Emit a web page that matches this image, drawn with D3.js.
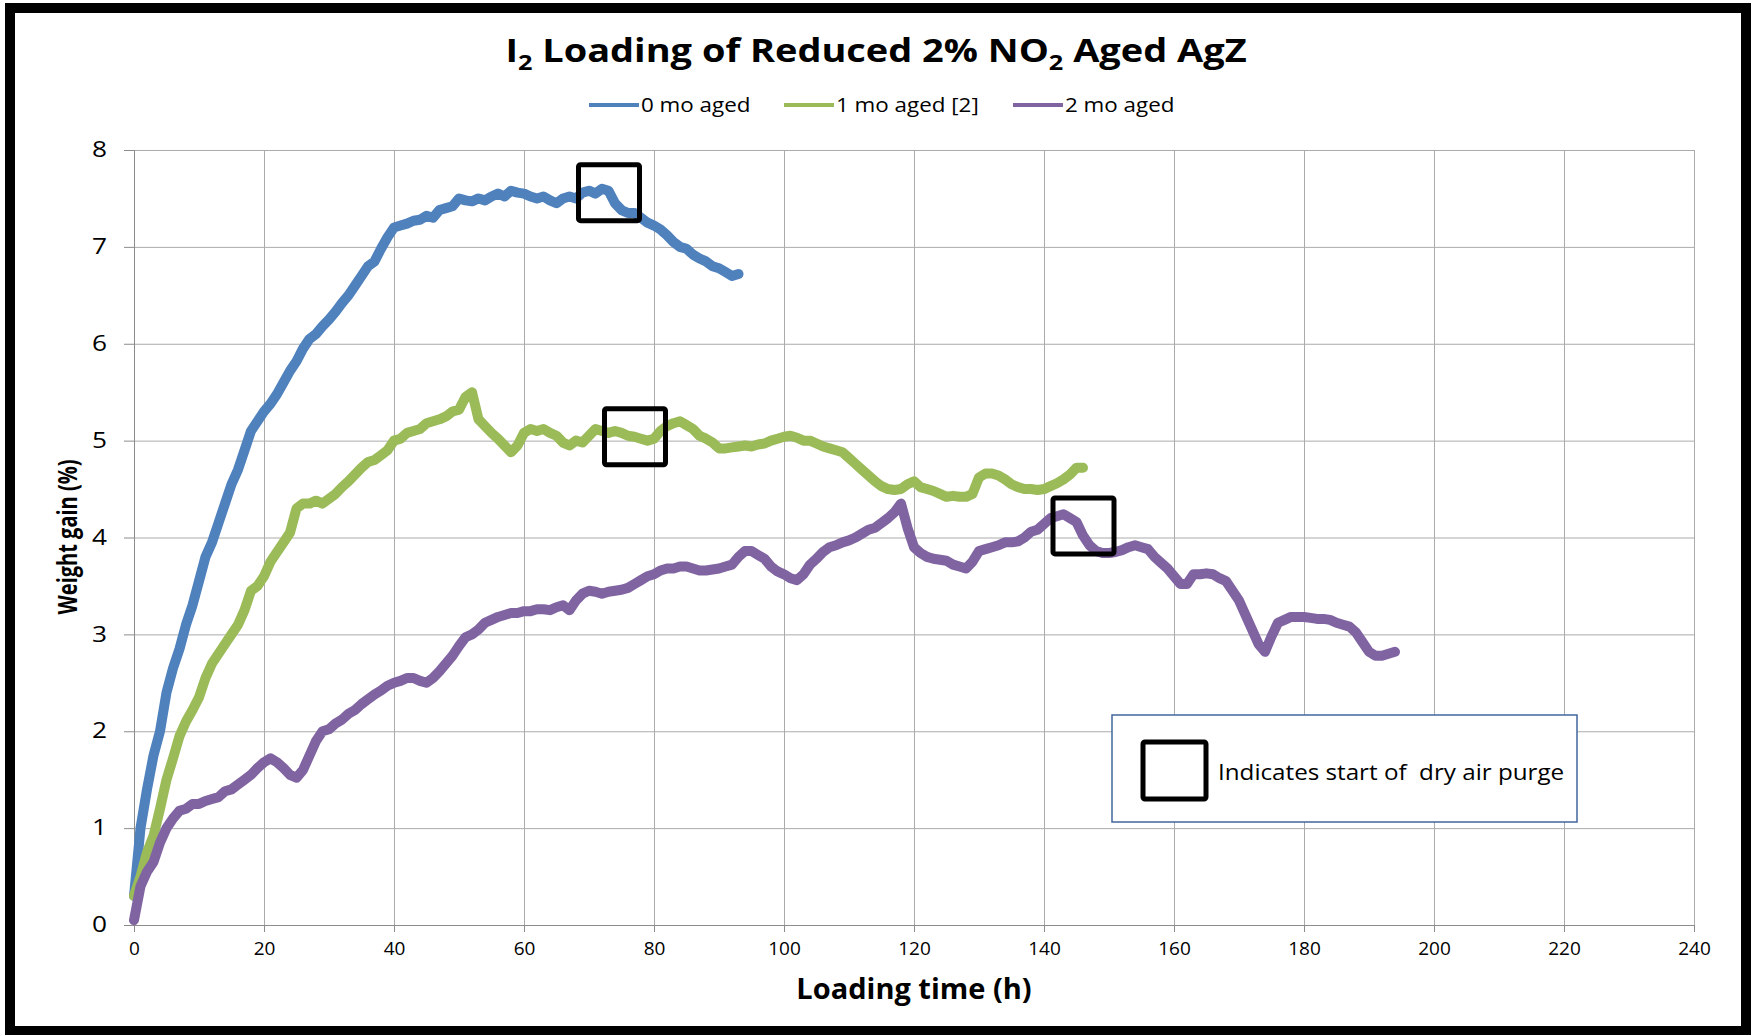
<!doctype html>
<html>
<head>
<meta charset="utf-8">
<script src="https://cdn.jsdelivr.net/npm/d3@7"></script>
<style>
  body { margin: 0; background: #fff; }
  text { font-family: "Open Sans", sans-serif; fill: #000; }
</style>
</head>
<body>
<svg width="1752" height="1035"></svg>
<script>
// values, one point per hour
var blueY = [0.30,1.00,1.40,1.75,2.00,2.40,2.65,2.85,3.10,3.30,3.55,3.80,3.95,4.15,4.35,4.55,4.70,4.90,5.10,5.20,
  5.30,5.38,5.48,5.60,5.72,5.82,5.95,6.05,6.10,6.18,6.25,6.33,6.42,6.50,6.60,6.70,6.80,6.85,6.98,7.10,
  7.20,7.22,7.24,7.27,7.28,7.32,7.30,7.38,7.40,7.42,7.50,7.48,7.47,7.50,7.48,7.52,7.55,7.52,7.58,7.56,
  7.55,7.52,7.50,7.52,7.48,7.45,7.50,7.52,7.50,7.56,7.58,7.55,7.60,7.58,7.45,7.38,7.35,7.35,7.30,7.25,
  7.22,7.18,7.12,7.05,7.00,6.98,6.92,6.88,6.85,6.80,6.78,6.74,6.70,6.72];
var greenY = [0.30,0.50,0.75,0.92,1.20,1.50,1.72,1.95,2.10,2.22,2.35,2.55,2.70,2.80,2.90,3.00,3.10,3.25,3.45,3.50,
  3.60,3.75,3.85,3.95,4.05,4.30,4.35,4.35,4.38,4.35,4.40,4.45,4.52,4.58,4.65,4.72,4.78,4.80,4.85,4.90,
  5.00,5.02,5.08,5.10,5.12,5.18,5.20,5.22,5.25,5.30,5.32,5.45,5.50,5.22,5.15,5.08,5.02,4.95,4.88,4.95,
  5.08,5.12,5.10,5.12,5.08,5.05,4.98,4.95,5.00,4.98,5.05,5.12,5.10,5.08,5.10,5.08,5.05,5.04,5.02,5.00,
  5.02,5.10,5.15,5.18,5.20,5.16,5.12,5.05,5.02,4.98,4.92,4.92,4.93,4.94,4.95,4.94,4.96,4.97,5.00,5.02,
  5.04,5.05,5.03,5.00,5.00,4.97,4.94,4.92,4.90,4.88,4.82,4.76,4.70,4.64,4.58,4.53,4.50,4.49,4.50,4.55,
  4.58,4.52,4.50,4.48,4.45,4.42,4.43,4.42,4.42,4.45,4.62,4.66,4.66,4.64,4.60,4.55,4.52,4.50,4.50,4.49,
  4.50,4.53,4.56,4.60,4.65,4.72,4.72];
var purpleY = [0.05,0.40,0.55,0.65,0.85,1.00,1.10,1.18,1.20,1.25,1.25,1.28,1.30,1.32,1.38,1.40,1.45,1.50,1.55,1.62,
  1.68,1.72,1.68,1.62,1.55,1.52,1.60,1.75,1.90,2.00,2.02,2.08,2.12,2.18,2.22,2.28,2.33,2.38,2.42,2.47,
  2.50,2.52,2.55,2.55,2.52,2.50,2.55,2.62,2.70,2.78,2.88,2.97,3.00,3.05,3.12,3.15,3.18,3.20,3.22,3.22,
  3.24,3.24,3.26,3.26,3.25,3.28,3.30,3.25,3.35,3.42,3.45,3.44,3.42,3.44,3.45,3.46,3.48,3.52,3.56,3.60,
  3.62,3.66,3.68,3.68,3.70,3.70,3.68,3.66,3.66,3.67,3.68,3.70,3.72,3.80,3.86,3.86,3.82,3.78,3.70,3.65,
  3.62,3.58,3.56,3.62,3.72,3.78,3.85,3.90,3.92,3.95,3.97,4.00,4.04,4.08,4.10,4.15,4.20,4.26,4.35,4.10,
  3.90,3.84,3.80,3.78,3.77,3.76,3.72,3.70,3.68,3.75,3.86,3.88,3.90,3.92,3.95,3.95,3.96,4.00,4.06,4.08,
  4.14,4.20,4.22,4.24,4.20,4.16,4.02,3.92,3.86,3.84,3.84,3.85,3.87,3.90,3.92,3.90,3.88,3.80,3.74,3.68,
  3.60,3.52,3.52,3.62,3.62,3.63,3.62,3.58,3.55,3.45,3.35,3.20,3.05,2.90,2.82,2.98,3.12,3.15,3.18,3.18,
  3.18,3.17,3.16,3.16,3.15,3.12,3.10,3.08,3.02,2.92,2.82,2.78,2.78,2.80,2.82];

var seriesNames = ["0 mo aged", "1 mo aged [2]", "2 mo aged"];
var seriesColors = ["#4f81bd", "#9bbb59", "#8064a2"];

// start of dry air purge (h, %)
var purgeX = [73, 77, 146];
var purgeY = [7.56, 5.04, 4.12];

var xTicks = [0, 20, 40, 60, 80, 100, 120, 140, 160, 180, 200, 220, 240];
var yTicks = [0, 1, 2, 3, 4, 5, 6, 7, 8];

var svg = d3.select("svg");

var plotL = 134, plotR = 1694, plotT = 150, plotB = 925;

var x = d3.scaleLinear().domain([0, 240]).range([plotL, plotR]);
var y = d3.scaleLinear().domain([0, 8]).range([plotB, plotT]);

// outer frame
svg.append("rect")
   .attr("x", 10).attr("y", 8)
   .attr("width", 1736).attr("height", 1023)
   .attr("fill", "none")
   .attr("stroke", "#000")
   .attr("stroke-width", 10);

// title (source font is wider, so stretch a little)
var title = svg.append("text")
   .attr("transform", "translate(876,62) scale(1.15,1)")
   .attr("text-anchor", "middle")
   .attr("font-size", "33px")
   .attr("font-weight", "bold");
title.append("tspan").text("I");
title.append("tspan").attr("font-size", "22px").attr("dy", 8).text("2");
title.append("tspan").attr("dy", -8).text(" Loading of Reduced 2% NO");
title.append("tspan").attr("font-size", "22px").attr("dy", 8).text("2");
title.append("tspan").attr("dy", -8).text(" Aged AgZ");

// legend
var legX = [589, 784, 1013];
seriesNames.forEach(function(name, i) {
    svg.append("line")
       .attr("x1", legX[i]).attr("x2", legX[i] + 50)
       .attr("y1", 105).attr("y2", 105)
       .attr("stroke", seriesColors[i])
       .attr("stroke-width", 4);
    svg.append("text")
       .attr("transform", "translate(" + (legX[i] + 52) + ",112) scale(1.12,1)")
       .attr("font-size", "20px")
       .text(name);
});

// grid
svg.append("g")
   .attr("transform", "translate(0," + plotB + ")")
   .call(d3.axisBottom(x).tickValues(xTicks).tickSize(-(plotB - plotT)).tickFormat(""))
   .call(function(g) { g.select(".domain").remove(); })
   .selectAll("line").attr("stroke", "#ababab");

svg.append("g")
   .attr("transform", "translate(" + plotL + ",0)")
   .call(d3.axisLeft(y).tickValues(yTicks).tickSize(-(plotR - plotL)).tickFormat(""))
   .call(function(g) { g.select(".domain").remove(); })
   .selectAll("line").attr("stroke", "#ababab");

// axes
var xAxis = svg.append("g")
   .attr("transform", "translate(0," + plotB + ")")
   .call(d3.axisBottom(x).tickValues(xTicks).tickSize(7).tickPadding(10));
xAxis.select(".domain").attr("stroke", "#8c8c8c");
xAxis.selectAll("line").attr("stroke", "#8c8c8c");
xAxis.selectAll("text")
   .attr("font-family", "DejaVu Sans")
   .attr("font-size", "19px")
   .attr("fill", "#000");

var yAxis = svg.append("g")
   .attr("transform", "translate(" + plotL + ",0)")
   .call(d3.axisLeft(y).tickValues(yTicks).tickSize(10).tickPadding(16));
yAxis.select(".domain").attr("stroke", "#8c8c8c");
yAxis.selectAll("line").attr("stroke", "#8c8c8c");
// y labels are drawn wider in the source
yAxis.selectAll("text")
   .attr("font-family", "DejaVu Sans")
   .attr("font-size", "21px")
   .attr("fill", "#000")
   .attr("x", -27 / 1.25)
   .attr("transform", "scale(1.25,1)");

// axis titles
svg.append("text")
   .attr("x", 914).attr("y", 999)
   .attr("text-anchor", "middle")
   .attr("font-size", "29px")
   .attr("font-weight", "bold")
   .text("Loading time (h)");

svg.append("text")
   .attr("transform", "translate(77,537) scale(1.35,1) rotate(-90)")
   .attr("text-anchor", "middle")
   .attr("font-size", "20px")
   .attr("font-weight", "bold")
   .text("Weight gain (%)");

// series
var line = d3.line()
   .x(function(d, i) { return x(i); })
   .y(function(d) { return y(d); });

[blueY, greenY, purpleY].forEach(function(vals, i) {
    svg.append("path")
       .datum(vals)
       .attr("fill", "none")
       .attr("stroke", seriesColors[i])
       .attr("stroke-width", 10)
       .attr("stroke-linejoin", "round")
       .attr("stroke-linecap", "round")
       .attr("d", line);
});

// purge markers
purgeX.forEach(function(px, i) {
    svg.append("rect")
       .attr("x", x(px) - 30).attr("y", y(purgeY[i]) - 28)
       .attr("width", 61).attr("height", 56)
       .attr("rx", 2)
       .attr("fill", "none")
       .attr("stroke", "#000")
       .attr("stroke-width", 5);
});

// note box
svg.append("rect")
   .attr("x", 1112).attr("y", 715)
   .attr("width", 465).attr("height", 107)
   .attr("fill", "#fff")
   .attr("stroke", "#41669c")
   .attr("stroke-width", 1.5);
svg.append("rect")
   .attr("x", 1143).attr("y", 742)
   .attr("width", 63).attr("height", 57)
   .attr("rx", 2)
   .attr("fill", "none")
   .attr("stroke", "#000")
   .attr("stroke-width", 5);
svg.append("text")
   .attr("transform", "translate(1218,780) scale(1.1,1)")
   .attr("font-size", "22px")
   .style("white-space", "pre")
   .text("Indicates start of  dry air purge");
</script>
</body>
</html>
